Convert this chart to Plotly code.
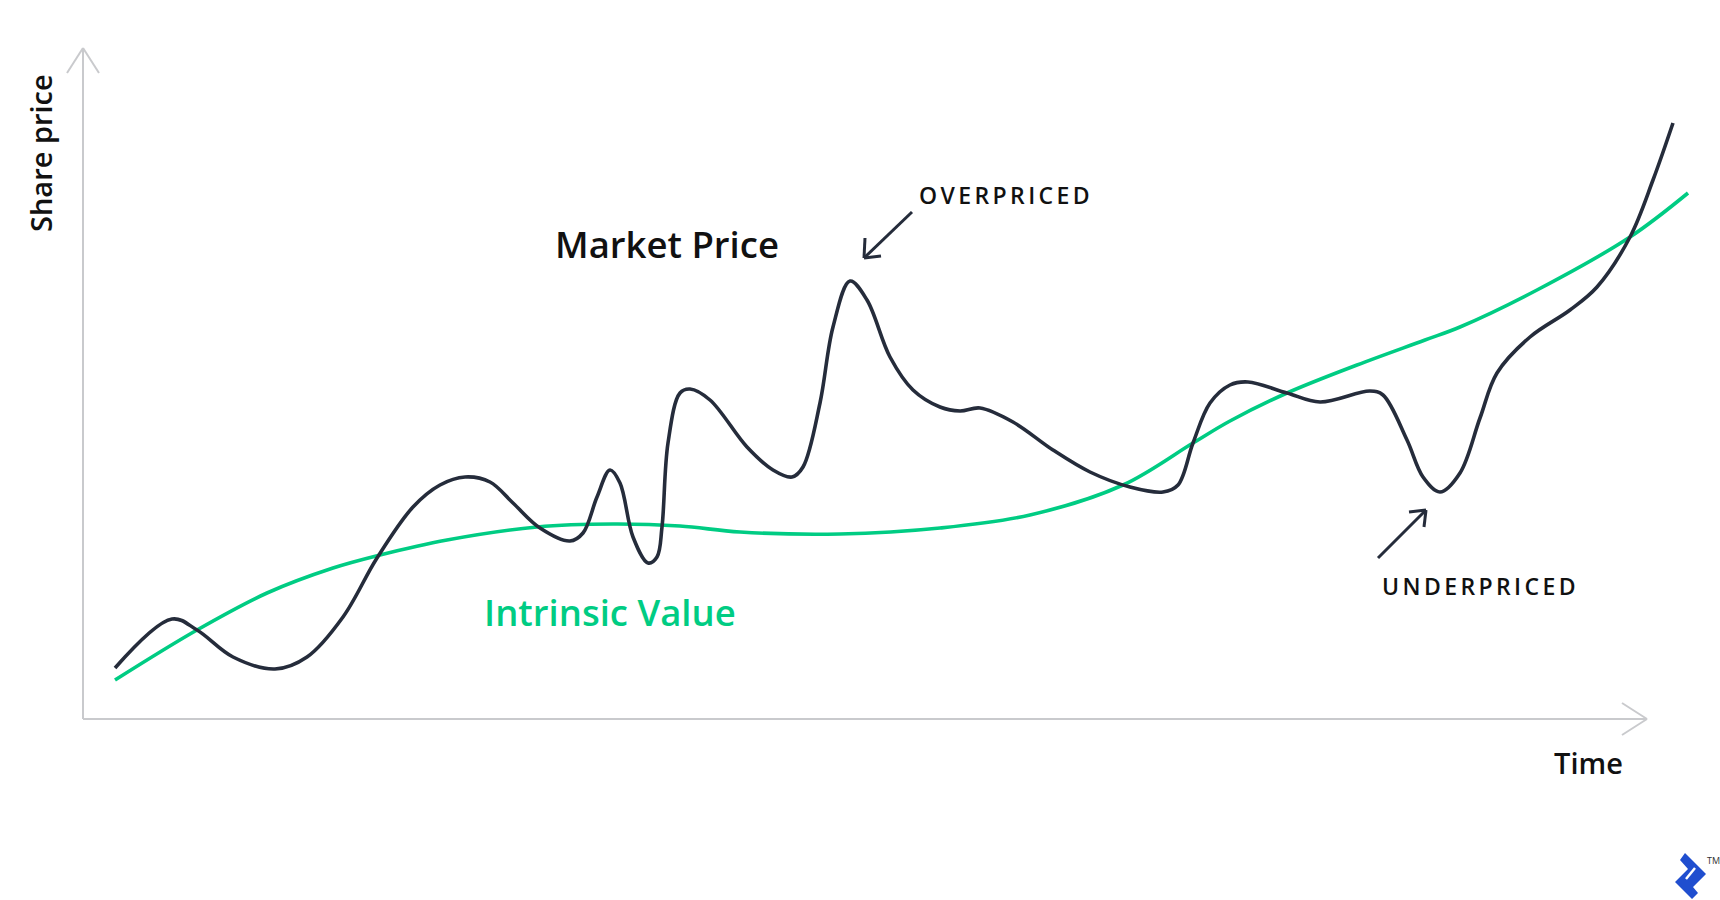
import plotly.graph_objects as go

# ---------------- data (time units, price units; origin at axes corner) ----------------
market_time = [32, 89, 114, 150, 192, 224, 260, 294, 330, 357, 382, 407, 430, 457, 487,
               500, 514, 527, 537, 550, 565, 574, 579, 585, 597, 607, 627, 664, 690, 709, 720,
               737, 750, 767, 784, 807, 830, 857, 877, 897, 930, 970, 1007, 1047, 1080, 1095,
               1110, 1127, 1147, 1165, 1204, 1237, 1287, 1300, 1324, 1340, 1357, 1377, 1397,
               1414, 1447, 1487, 1514, 1547, 1570, 1590]
market_price = [51, 100, 89, 62, 50, 62, 102, 161, 212, 234, 242, 237, 216, 191, 178,
                186, 222, 249, 236, 182, 156, 162, 192, 276, 326, 330, 319, 272, 249, 242, 252,
                316, 392, 438, 419, 362, 329, 312, 308, 311, 297, 269, 247, 232, 227, 234,
                276, 316, 334, 337, 326, 317, 328, 324, 279, 242, 227, 246, 301,
                346, 382, 409, 432, 482, 539, 596]

intrinsic_time = [32, 114, 184, 250, 297, 364, 454, 530, 597, 657, 757, 857, 947, 1040, 1110,
                  1147, 1204, 1274, 1342, 1377, 1454, 1547, 1605]
intrinsic_value = [39, 89, 126, 151, 164, 179, 192, 195, 193, 187, 185, 191, 204, 234, 276,
                   298, 326, 354, 379, 392, 429, 482, 526]

W, H = 1720, 900
X0, Y0 = 83, 719  # pixel position of the axes origin

NAVY = "#252c3b"
GREEN = "#00cc83"
AXIS = "#c9cacd"
TEXT = "#111111"
FONT = "Open Sans"


def px(x):
    return x / W


def py(y):
    return 1 - y / H


fig = go.Figure()
fig.add_trace(go.Scatter(x=intrinsic_time, y=intrinsic_value, mode="lines",
                         line=dict(color=GREEN, width=3.6, shape="spline", smoothing=1.0),
                         hoverinfo="skip", showlegend=False))
fig.add_trace(go.Scatter(x=market_time, y=market_price, mode="lines",
                         line=dict(color=NAVY, width=3.6, shape="spline", smoothing=1.0),
                         hoverinfo="skip", showlegend=False))

shapes = []


def seg(x0, y0, x1, y1, color, width):
    shapes.append(dict(type="line", xref="paper", yref="paper",
                       x0=px(x0), y0=py(y0), x1=px(x1), y1=py(y1),
                       line=dict(color=color, width=width), layer="above"))


# axes with open arrowheads
seg(X0, Y0, X0, 48, AXIS, 2)
seg(67, 73, X0, 48, AXIS, 2)
seg(99, 73, X0, 48, AXIS, 2)
seg(X0, Y0, 1647, Y0, AXIS, 2)
seg(1622, 703, 1647, Y0, AXIS, 2)
seg(1622, 735, 1647, Y0, AXIS, 2)

# callout arrows
seg(912, 212, 864, 258, NAVY, 3)
seg(865, 238, 864, 258, NAVY, 3)
seg(881, 256, 864, 258, NAVY, 3)

seg(1378, 558, 1426, 510, NAVY, 3)
seg(1409, 512, 1426, 510, NAVY, 3)
seg(1424, 527, 1426, 510, NAVY, 3)

# small logo
logo = [(1685, 853), (1706, 874), (1693, 887), (1698, 893), (1692, 899),
        (1675, 882), (1688, 869), (1680, 860)]
path = "M " + " L ".join(f"{px(x)},{py(y)}" for x, y in logo) + " Z"
shapes.append(dict(type="path", xref="paper", yref="paper", path=path,
                   fillcolor="#204ecf", line=dict(width=0), layer="above"))
seg(1695, 868, 1686, 879, "#ffffff", 2.5)

annotations = []


def label(x, y, text, size, color=TEXT, weight=600, angle=0):
    annotations.append(dict(x=px(x), y=py(y), xref="paper", yref="paper", text=text,
                            showarrow=False, textangle=angle, xanchor="center", yanchor="middle",
                            font=dict(family=FONT, size=size, color=color, weight=weight)))


label(40, 153, "Share price", 29, angle=-90)
label(1588, 762, "Time", 29)
label(667, 244, "Market Price", 36.5)
label(610, 612, "Intrinsic Value", 36.5, color=GREEN)
label(1006, 195, '<span style="letter-spacing:3.4px">OVERPRICED</span>', 23, weight=600)
label(1480, 586, '<span style="letter-spacing:3.4px">UNDERPRICED</span>', 23, weight=600)
label(1713, 860, "TM", 9, color="#333333", weight=400)

fig.update_layout(
    width=W, height=H, margin=dict(l=0, r=0, t=0, b=0),
    paper_bgcolor="white", plot_bgcolor="white",
    xaxis=dict(range=[-X0, W - X0], visible=False, fixedrange=True),
    yaxis=dict(range=[Y0 - H, Y0], visible=False, fixedrange=True),
    shapes=shapes, annotations=annotations, showlegend=False,
)

fig.write_html("out.html", config={"displayModeBar": False},
               post_script="document.body.style.margin='0';")
